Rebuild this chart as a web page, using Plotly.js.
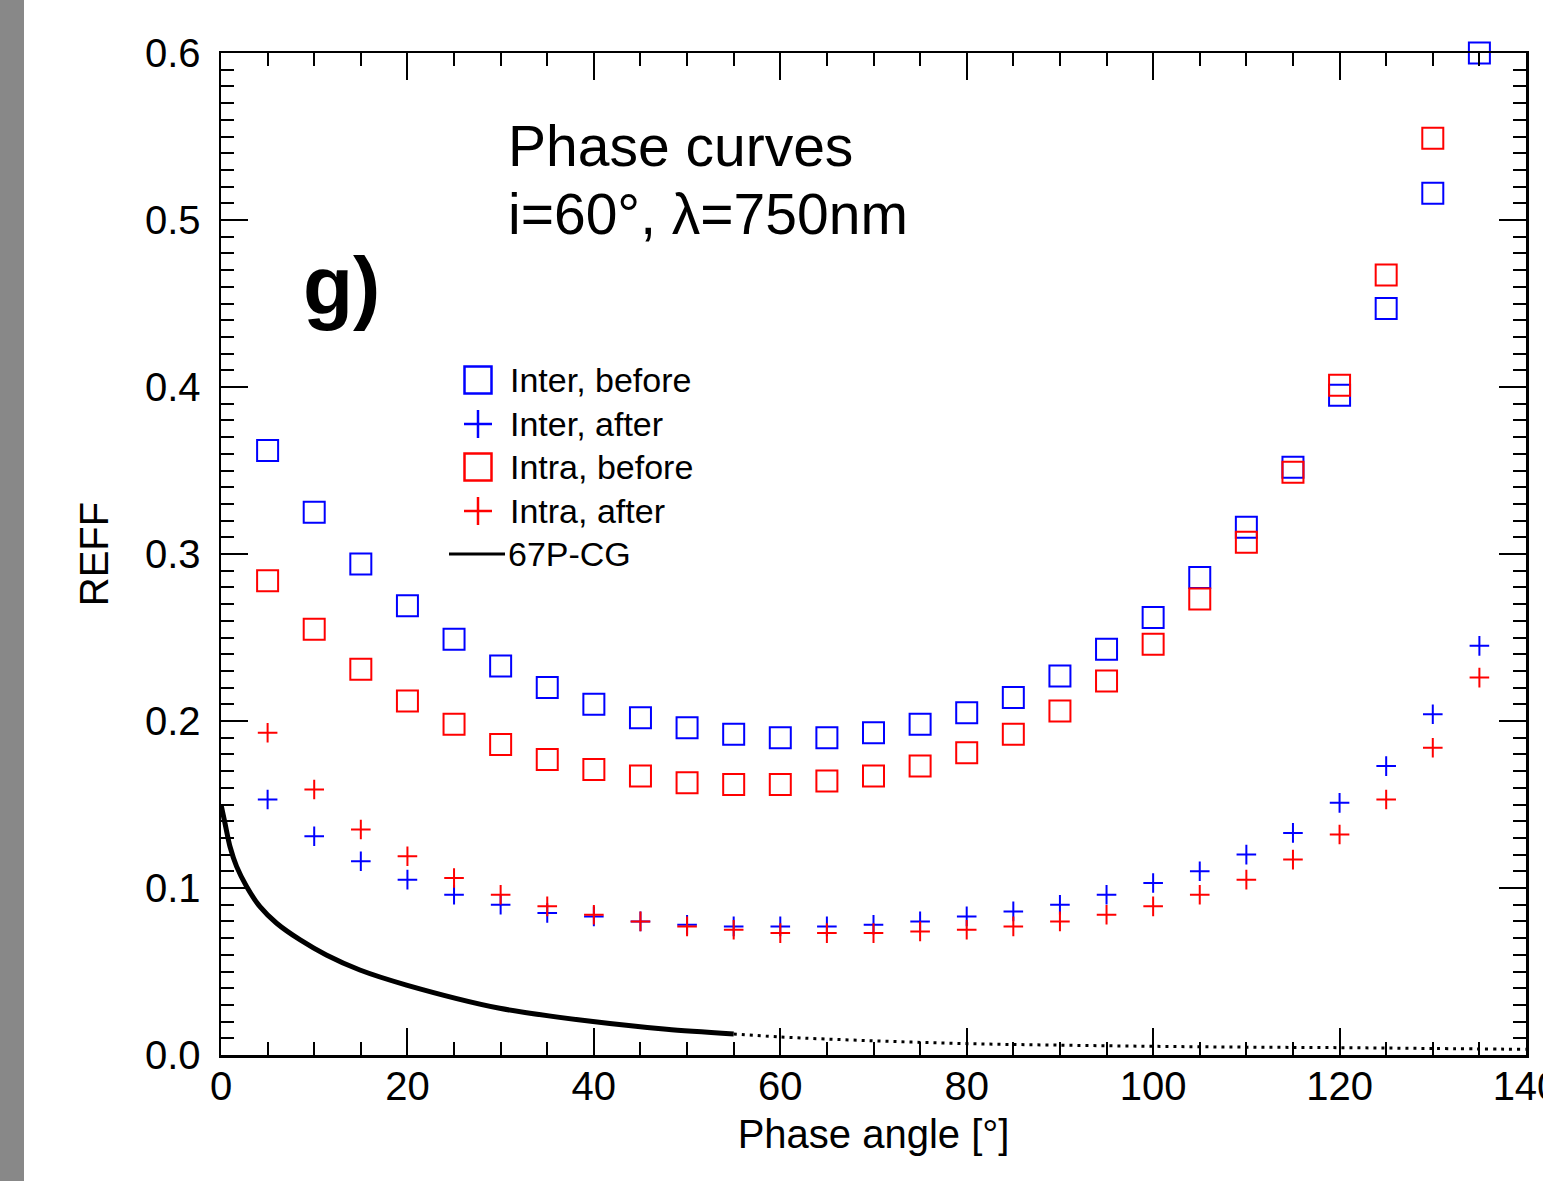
<!DOCTYPE html>
<html>
<head>
<meta charset="utf-8">
<script src="https://cdn.plot.ly/plotly-3.0.1.min.js"></script>
<style>
html,body{margin:0;padding:0;background:#fff;}
#wrap{position:relative;width:1543px;height:1181px;overflow:hidden;}
#strip{position:absolute;left:0;top:0;width:24px;height:1181px;background:#888;z-index:10;}
#chart{position:absolute;left:0;top:0;width:1543px;height:1181px;}
</style>
</head>
<body>
<div id="wrap"><div id="strip"></div><div id="chart"></div></div>
<script>
// Phase angles (deg)
const phaseAngles = [5,10,15,20,25,30,35,40,45,50,55,60,65,70,75,80,85,90,95,100,105,110,115,120,125,130,135];
const phaseAnglesIntraBefore = [5,10,15,20,25,30,35,40,45,50,55,60,65,70,75,80,85,90,95,100,105,110,115,120,125,130];

const interBefore = [0.362,0.325,0.294,0.269,0.249,0.233,0.220,0.210,0.202,0.196,0.192,0.190,0.190,0.193,0.198,0.205,0.214,0.227,0.243,0.262,0.286,0.316,0.352,0.395,0.447,0.516,0.600];
const intraBefore = [0.284,0.255,0.231,0.212,0.198,0.186,0.177,0.171,0.167,0.163,0.162,0.162,0.164,0.167,0.173,0.181,0.192,0.206,0.224,0.246,0.273,0.307,0.349,0.401,0.467,0.549];
const interAfter  = [0.153,0.131,0.116,0.105,0.096,0.090,0.085,0.083,0.080,0.078,0.077,0.077,0.077,0.078,0.080,0.083,0.086,0.090,0.096,0.103,0.110,0.120,0.133,0.151,0.173,0.204,0.245];
const intraAfter  = [0.193,0.159,0.135,0.119,0.106,0.096,0.089,0.084,0.080,0.077,0.075,0.073,0.073,0.073,0.074,0.075,0.077,0.080,0.084,0.089,0.096,0.105,0.117,0.132,0.153,0.184,0.226];

// 67P-CG model curve (solid part, then dotted extrapolation)
const cometSolidX = [0,0.43,0.97,1.68,2.76,4.18,5.97,8.5,11.3,14.9,19.9,29.9,39.9,47.8,55];
const cometSolidY = [0.150,0.1387,0.1247,0.1128,0.1008,0.0888,0.0789,0.0689,0.0599,0.0509,0.0419,0.0280,0.0200,0.0154,0.0126];
const cometDotX = [55,60,70,80,90,100,110,120,130,140];
const cometDotY = [0.0126,0.0108,0.0085,0.0068,0.0059,0.0052,0.0047,0.0044,0.0039,0.0034];

const seriesNames = ["Inter, before","Inter, after","Intra, before","Intra, after","67P-CG"];
const seriesColors = ["#0000ff","#0000ff","#ff0000","#ff0000","#000000"];
const seriesKinds = ["square","plus","square","plus","line"];

const sq = (c)=>({symbol:"square-open", size:21, color:c, line:{color:c, width:2}});
const pl = (c)=>({symbol:"cross-thin-open", size:14, color:c, line:{color:c, width:2}});

const traces = [
  {x:phaseAngles, y:interBefore, mode:"markers", name:seriesNames[0], marker:sq(seriesColors[0]), cliponaxis:false},
  {x:phaseAngles, y:interAfter, mode:"markers", name:seriesNames[1], marker:pl(seriesColors[1]), cliponaxis:false},
  {x:phaseAnglesIntraBefore, y:intraBefore, mode:"markers", name:seriesNames[2], marker:sq(seriesColors[2]), cliponaxis:false},
  {x:phaseAngles, y:intraAfter, mode:"markers", name:seriesNames[3], marker:pl(seriesColors[3]), cliponaxis:false},
  {x:cometSolidX, y:cometSolidY, mode:"lines", name:seriesNames[4], line:{color:"#000", width:5, shape:"spline", smoothing:0.8}},
  {x:cometDotX, y:cometDotY, mode:"lines", name:"67P-CG extrapolated", line:{color:"#000", width:3, dash:"3px,5px", shape:"spline"}}
];

// plot-area pixel geometry helpers for legend placement
const L = 221, R = 1526, T = 53, B = 1055;
const px = (v)=>(v-L)/(R-L);
const py = (v)=>(B-v)/(B-T);

const shapes = [];
const annotations = [];
const legRows = [380,424,467,511,554];
seriesNames.forEach((name,i)=>{
  const yc = legRows[i], c = seriesColors[i], k = seriesKinds[i];
  if (k==="square") {
    shapes.push({type:"rect", xref:"paper", yref:"paper", x0:px(478-13.5), x1:px(478+13.5), y0:py(yc+13.5), y1:py(yc-13.5),
      line:{color:c, width:2.5}, fillcolor:"rgba(0,0,0,0)"});
  } else if (k==="plus") {
    shapes.push({type:"line", xref:"paper", yref:"paper", x0:px(478-14), x1:px(478+14), y0:py(yc), y1:py(yc), line:{color:c, width:2.5}});
    shapes.push({type:"line", xref:"paper", yref:"paper", x0:px(478), x1:px(478), y0:py(yc-14), y1:py(yc+14), line:{color:c, width:2.5}});
  } else {
    shapes.push({type:"line", xref:"paper", yref:"paper", x0:px(449), x1:px(505), y0:py(yc), y1:py(yc), line:{color:c, width:3}});
  }
  annotations.push({xref:"paper", yref:"paper", x:px(k==="line"?506:508), y:py(yc), xanchor:"left", yanchor:"middle",
    text:name, showarrow:false, font:{size:34, color:"#000"}});
});

annotations.push(
  {xref:"paper", yref:"paper", x:px(506), y:py(146), xanchor:"left", yanchor:"middle",
   text:"Phase curves", showarrow:false, font:{size:57, color:"#000"}},
  {xref:"paper", yref:"paper", x:px(506), y:py(214), xanchor:"left", yanchor:"middle",
   text:"i=60°, λ=750nm", showarrow:false, font:{size:57, color:"#000"}},
  {xref:"paper", yref:"paper", x:px(301), y:py(285), xanchor:"left", yanchor:"middle",
   text:"<b>g)</b>", showarrow:false, font:{size:82, color:"#000"}}
);

const axisCommon = {
  showgrid:false, zeroline:false, showline:true, linecolor:"#000", linewidth:2.5,
  mirror:"ticks", ticks:"inside", tickcolor:"#000", tickwidth:2, ticklen:27,
  tickfont:{size:40, color:"#000"}, ticklabeloverflow:"allow"
};

const layout = {
  width:1543, height:1181,
  margin:{l:L, r:1543-R, t:T, b:1181-B, pad:0},
  paper_bgcolor:"#fff", plot_bgcolor:"#fff",
  font:{family:"Liberation Sans, Arial, sans-serif", color:"#000"},
  showlegend:false,
  xaxis:Object.assign({}, axisCommon, {
    range:[0,140], tickmode:"array", tickvals:[0,20,40,60,80,100,120,140],
    ticktext:["0","20","40","60","80","100","120","140"],
    minor:{dtick:5, ticklen:13, tickwidth:2, tickcolor:"#000", ticks:"inside"},
    ticklabelstandoff:-6,
    title:{text:"Phase angle [°]", font:{size:40, color:"#000"}, standoff:14}
  }),
  yaxis:Object.assign({}, axisCommon, {
    range:[0,0.6], tickmode:"array", tickvals:[0,0.1,0.2,0.3,0.4,0.5,0.6],
    ticktext:["0.0","0.1","0.2","0.3","0.4","0.5","0.6"],
    minor:{dtick:0.01, ticklen:13, tickwidth:2, tickcolor:"#000", ticks:"inside"},
    ticklabelstandoff:10,
    title:{text:"REFF", font:{size:40, color:"#000"}, standoff:24}
  }),
  shapes:shapes,
  annotations:annotations
};

Plotly.newPlot("chart", traces, layout, {displayModeBar:false, staticPlot:true});
</script>
</body>
</html>
